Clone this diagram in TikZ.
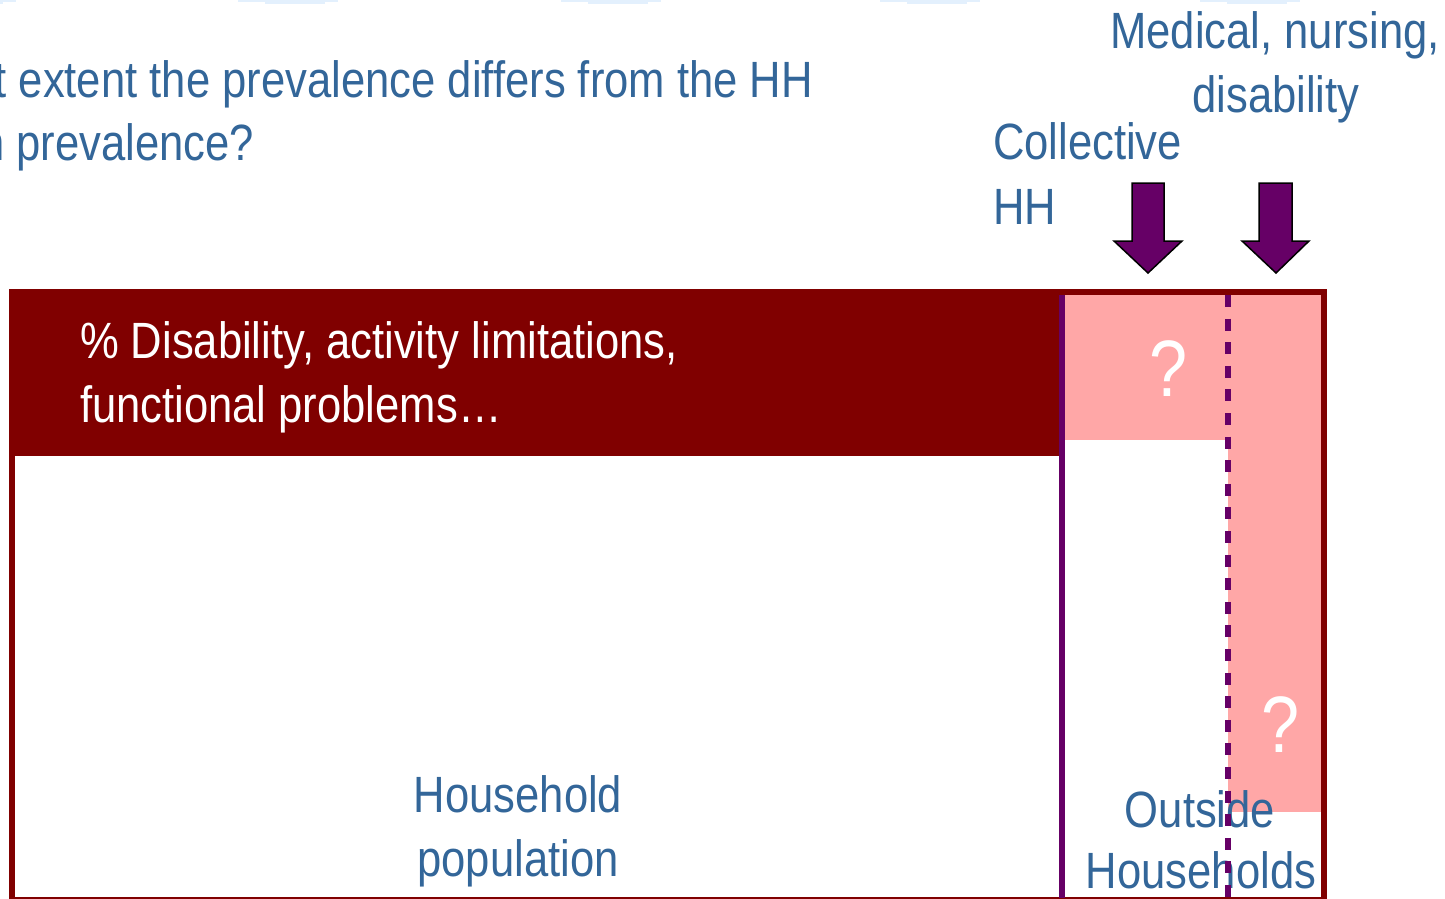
\documentclass[tikz,border=0pt]{standalone}
\usepackage{fontspec}
\setmainfont{Liberation Sans}[FakeStretch=0.855]
\definecolor{framered}{HTML}{800000}
\definecolor{rose}{HTML}{FFA7A7}
\definecolor{plum}{HTML}{660066}
\definecolor{ink}{HTML}{336699}
\definecolor{haze}{HTML}{E3F0FD}
\begin{document}
\begin{tikzpicture}[x=1pt,y=-1pt,
  lbl/.style={inner sep=0pt, outer sep=0pt, text=ink,
    font=\fontsize{51}{61}\selectfont, anchor=base},
  banner/.style={lbl, text=white, anchor=base west},
  qmark/.style={lbl, text=white, font=\fontsize{80}{90}\selectfont},
  blockarrow/.style={fill=plum, draw=black, line width=1.5pt, line join=miter},
  divider/.style={draw=plum, line width=6pt}]
\useasboundingbox (0,0) rectangle (1445,898);
\clip (0,0) rectangle (1445,898);

% faint shapes peeking in at the top edge
\foreach \cx in {-34,288,611,930,1250} {
  \fill[haze] (\cx-50,0) rectangle (\cx+50,2);
  \fill[haze] (\cx-23,0) rectangle (\cx+37,4);
}

% question text
\node[lbl, anchor=base east] (q1) at (813,97) {t extent the prevalence differs from the HH};
\node[lbl, anchor=base east] (q2) at (254,160) {n prevalence?};

% group labels above the box
\node[lbl] (med1) at (1275,48) {Medical, nursing,};
\node[lbl] (med2) at (1276,112) {disability};
\node[lbl, anchor=base west] (col1) at (993,159) {Collective};
\node[lbl, anchor=base west] (col2) at (993,224) {HH};

% pointers into the outside-household columns
\filldraw[blockarrow] (1132,183) -- (1164,183) -- (1164,241) -- (1182,241)
  -- (1148,273) -- (1114,241) -- (1132,241) -- cycle;
\filldraw[blockarrow] (1259,183) -- (1292,183) -- (1292,241) -- (1309,241)
  -- (1276,273) -- (1242,241) -- (1259,241) -- cycle;

% unknown prevalence areas
\fill[rose] (1062,292) rectangle (1228,440);
\fill[rose] (1228,292) rectangle (1324,812);

% prevalence band of the household population
\fill[framered] (9,289) rectangle (1062,456);
\node[banner] (b1) at (80,358) {\% Disability, activity limitations,};
\node[banner] (b2) at (80,422) {functional problems…};

% outer frame
\draw[framered, line width=6pt] (12,292) rectangle (1324,900);

\node[qmark] (qa) at (1169,396) {?};
\node[qmark] (qb) at (1281,752) {?};

% population labels
\node[lbl] (hh1) at (518,812) {Household};
\node[lbl] (hh2) at (518,876) {population};
\node[lbl] (out1) at (1200,827) {Outside};
\node[lbl] (out2) at (1201,888) {Households};

% column dividers
\draw[divider] (1062,295) -- (1062,898);
\draw[divider, dash pattern=on 12pt off 11.6pt] (1228,295) -- (1228,898);
\end{tikzpicture}
\end{document}
